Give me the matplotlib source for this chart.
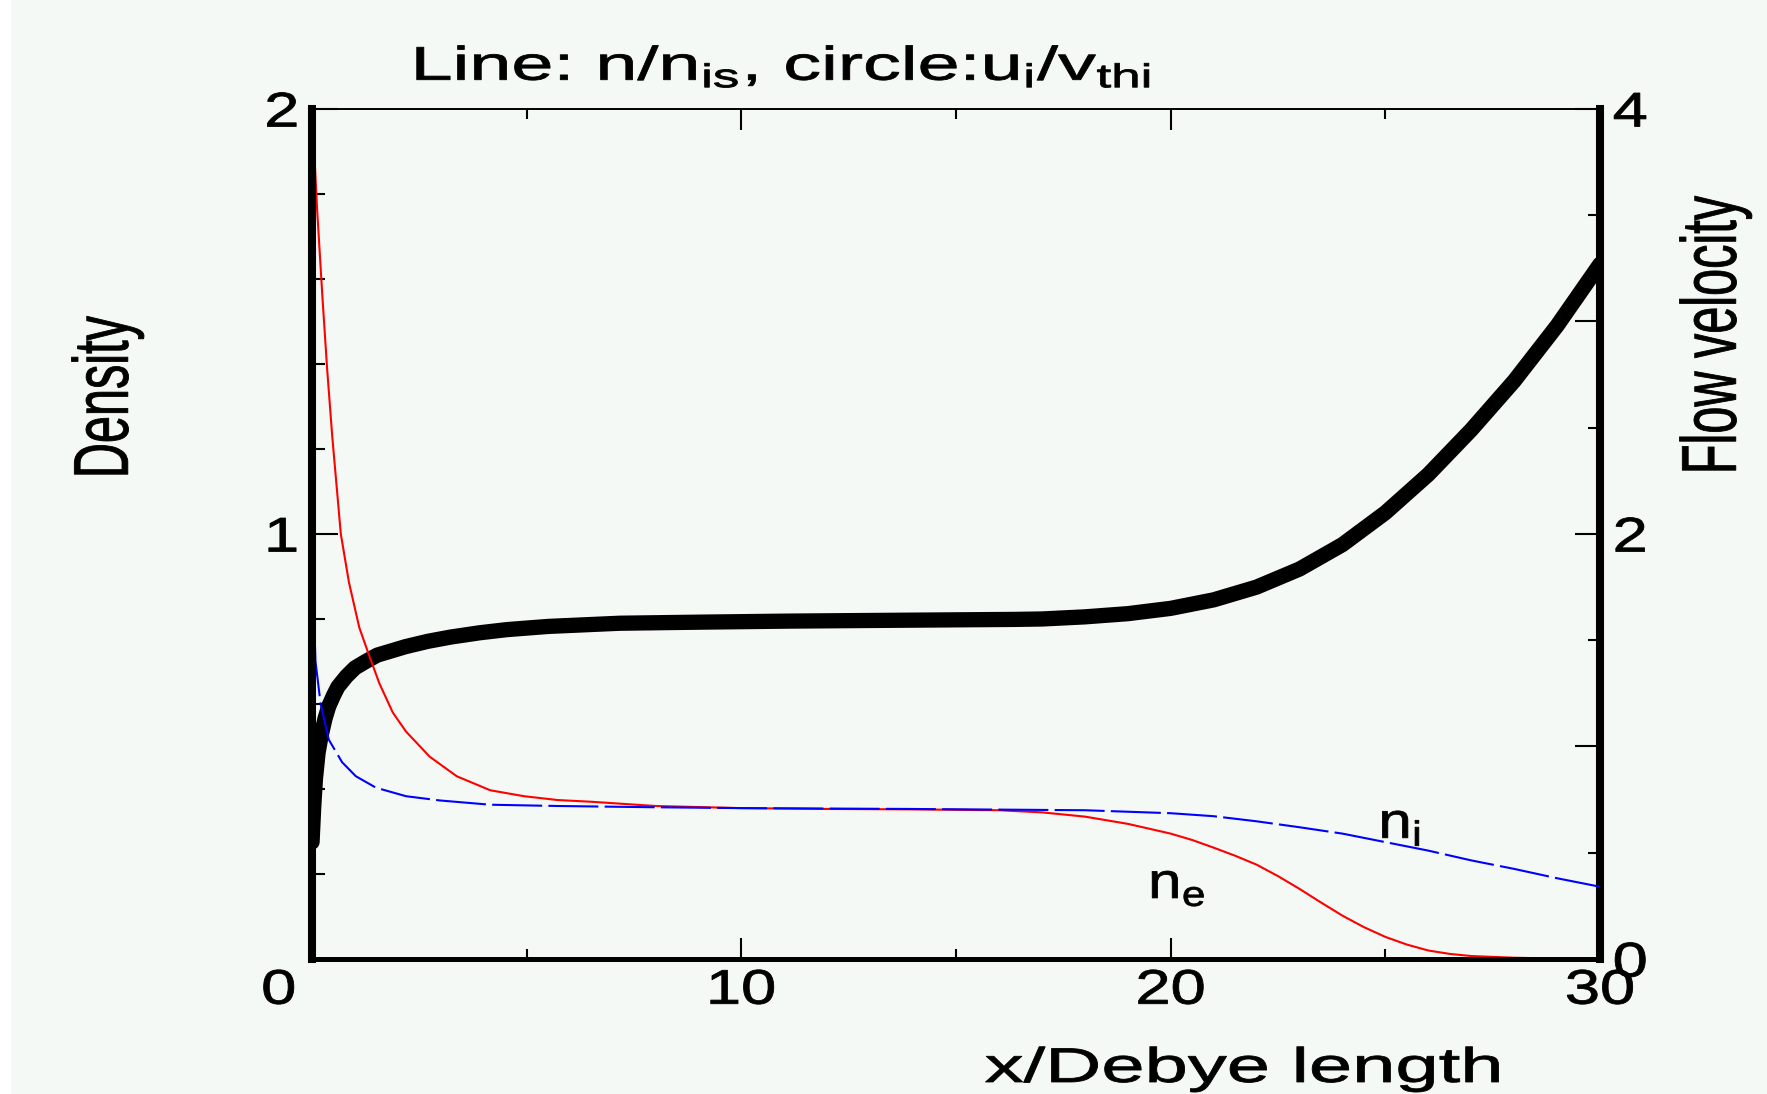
import matplotlib
matplotlib.use("Agg")
import matplotlib.pyplot as plt
import matplotlib.patheffects as pe
from matplotlib.patches import Rectangle
from matplotlib.transforms import Affine2D
from matplotlib.ticker import FixedLocator, MultipleLocator


# electron density n_e / n_s
x_ne = [0, 0.12, 0.24, 0.35, 0.47, 0.67, 0.86, 1.1, 1.33, 1.57, 1.88, 2.19, 2.74,
        3.37, 4.15, 4.94, 5.72, 6.5, 8, 10, 12, 14, 16, 17, 18, 19, 20, 20.5, 21,
        21.5, 22, 22.5, 23, 23.5, 24, 24.5, 25, 25.5, 26, 26.5, 27, 28, 29, 30]
ne = [2.0, 1.76, 1.56, 1.39, 1.23, 1.0, 0.886, 0.78, 0.714, 0.648, 0.58, 0.535, 0.476,
      0.43, 0.397, 0.383, 0.374, 0.37, 0.36, 0.355, 0.353, 0.352, 0.35, 0.345, 0.335,
      0.318, 0.295, 0.28, 0.262, 0.243, 0.222, 0.195, 0.165, 0.133, 0.102, 0.075,
      0.052, 0.034, 0.02, 0.012, 0.007, 0.003, 0.001, 0.0]

# ion density n_i / n_s
x_ni = [0, 0.04, 0.08, 0.2, 0.39, 0.7, 1.02, 1.49, 2.19, 2.98, 4.15, 5.72, 8, 10,
        14, 18, 20, 21, 22, 23, 24, 25, 26, 27, 28, 29, 30]
ni = [1.0, 0.83, 0.70, 0.60, 0.516, 0.463, 0.43, 0.403, 0.383, 0.373, 0.363, 0.36,
      0.357, 0.355, 0.353, 0.35, 0.343, 0.336, 0.324, 0.31, 0.295, 0.275, 0.255,
      0.232, 0.212, 0.19, 0.17]

# ion flow velocity u_i / v_thi
x_u = [0, 0.04, 0.08, 0.14, 0.21, 0.3, 0.39, 0.5, 0.6, 0.8, 1.0, 1.25, 1.52, 1.85,
       2.18, 2.7, 3.23, 3.9, 4.54, 5.5, 7.17, 9, 11.1, 13, 15, 16.35, 17, 18, 19, 20,
       21, 22, 23, 24, 25, 26, 27, 28, 29, 30]
u = [0.55, 0.72, 0.85, 0.97, 1.05, 1.13, 1.19, 1.24, 1.28, 1.33, 1.37, 1.40, 1.43,
     1.45, 1.47, 1.495, 1.515, 1.535, 1.55, 1.565, 1.58, 1.585, 1.59, 1.593, 1.596,
     1.598, 1.60, 1.61, 1.625, 1.65, 1.69, 1.75, 1.835, 1.95, 2.10, 2.28, 2.49, 2.72,
     2.98, 3.27]


class Stretch(pe.AbstractPathEffect):
    """Scale text glyphs about their own centre (wide plotter-style lettering)."""

    def __init__(self, sx=1.0, sy=1.0, lw=0.0):
        super().__init__()
        self.sx, self.sy, self.lw = sx, sy, lw

    def draw_path(self, renderer, gc, tpath, affine, rgbFace=None):
        ext = affine.transform_path(tpath).get_extents()
        cx, cy = ext.x0 + ext.width / 2, ext.y0 + ext.height / 2
        st = Affine2D().translate(-cx, -cy).scale(self.sx, self.sy).translate(cx, cy)
        gc0 = renderer.new_gc()
        gc0.copy_properties(gc)
        gc0.set_linewidth(self.lw)
        if rgbFace is not None:
            gc0.set_foreground(rgbFace)
        renderer.draw_path(gc0, tpath, affine + st, rgbFace)
        gc0.restore()


plt.rcParams['font.family'] = 'Liberation Sans'
plt.rcParams['mathtext.default'] = 'regular'

bg = '#f5f9f6'
wide = [Stretch(1.6, lw=0.6)]
tick_fx = [Stretch(1.3, lw=0.6)]
sub_fx = [Stretch(1.2, lw=0.6)]

fig = plt.figure(figsize=(17.67, 10.94), dpi=100, facecolor=bg)
fig.patches.append(Rectangle((0, 0), 11 / 1767, 1, transform=fig.transFigure,
                             facecolor='white', edgecolor='none', zorder=0))

ax2 = fig.add_axes([0.1766, 0.1234, 0.7289, 0.7770])
ax = fig.add_axes([0.1766, 0.1234, 0.7289, 0.7770], sharex=ax2)
ax2.set_facecolor(bg)
ax.patch.set_visible(False)

# flow velocity (right axis), drawn underneath the densities
ax2.plot(x_u, u, color='black', lw=11, solid_capstyle='round', solid_joinstyle='round')
ax2.set_ylim(0, 4)
ax2.set_xlim(0, 30)

ax.plot(x_ne, ne, color='#ff0000', lw=1.5)
ax.plot(x_ni, ni, color='#0000ff', lw=1.5, dashes=(24, 3))
ax.set_xlim(0, 30)
ax.set_ylim(0, 2)

# spines
for s in ['left', 'right', 'top', 'bottom']:
    ax2.spines[s].set_visible(False)
ax2.spines['right'].set_visible(True)
ax2.spines['right'].set_linewidth(5.8)
ax.spines['right'].set_visible(False)
ax.spines['left'].set_linewidth(5.8)
ax.spines['bottom'].set_linewidth(3.6)
ax.spines['top'].set_linewidth(1.4)

# x ticks, top and bottom
ax.set_xticks([0, 10, 20, 30], labels=['', '10', '20', '30'], fontsize=35,
              path_effects=tick_fx)
ax.xaxis.set_minor_locator(FixedLocator([5, 15, 25]))
ax.tick_params(axis='x', which='major', direction='in', length=15, width=1.5,
               top=True, pad=7)
ax.tick_params(axis='x', which='minor', direction='in', length=7.5, width=1.5,
               top=True)
ax.annotate('0', xy=(0, 0), xycoords='data', xytext=(-24, -7), textcoords='offset points',
            ha='center', va='top', fontsize=35, path_effects=tick_fx)

# left density axis
ax.set_yticks([0, 1, 2], labels=['', '1', '2'], fontsize=35, path_effects=tick_fx)
ax.yaxis.set_minor_locator(MultipleLocator(0.2))
ax.tick_params(axis='y', which='major', direction='in', length=19, width=1.5, pad=12)
ax.tick_params(axis='y', which='minor', direction='in', length=9, width=1.5)

# right velocity axis
ax2.set_yticks([0, 1, 2, 3, 4], labels=['0', '', '2', '', '4'], fontsize=35,
               path_effects=tick_fx)
ax2.yaxis.set_minor_locator(MultipleLocator(0.5))
ax2.tick_params(axis='y', which='major', direction='in', length=18, width=1.5, pad=12,
                left=False, right=True, labelleft=False, labelright=True)
ax2.tick_params(axis='y', which='minor', direction='in', length=9, width=1.5,
                left=False, right=True)
ax2.tick_params(axis='x', which='both', bottom=False, top=False,
                labelbottom=False)

# curve labels
ax.text(25.34, 0.285, '$n_i$', fontsize=36, ha='center', va='baseline', path_effects=sub_fx)
ax.text(20.15, 0.1435, '$n_e$', fontsize=36, ha='center', va='baseline', path_effects=sub_fx)

# titles
fig.text(782 / 1767, 0.9269, 'Line: $n/n_{is}$, circle:$u_i/v_{thi}$', fontsize=34,
         ha='center', va='baseline', path_effects=wide)
fig.text(0.7037, 0.011, 'x/Debye length', fontsize=35, ha='center', va='baseline',
         path_effects=wide)
fig.text(0.061, 0.637, 'Density', fontsize=35, rotation=90, ha='center', va='center',
         path_effects=wide)
fig.text(0.971, 0.6938, 'Flow velocity', fontsize=35, rotation=90, ha='center',
         va='center', path_effects=wide)

fig.savefig('out.png', dpi=100, facecolor=bg)
